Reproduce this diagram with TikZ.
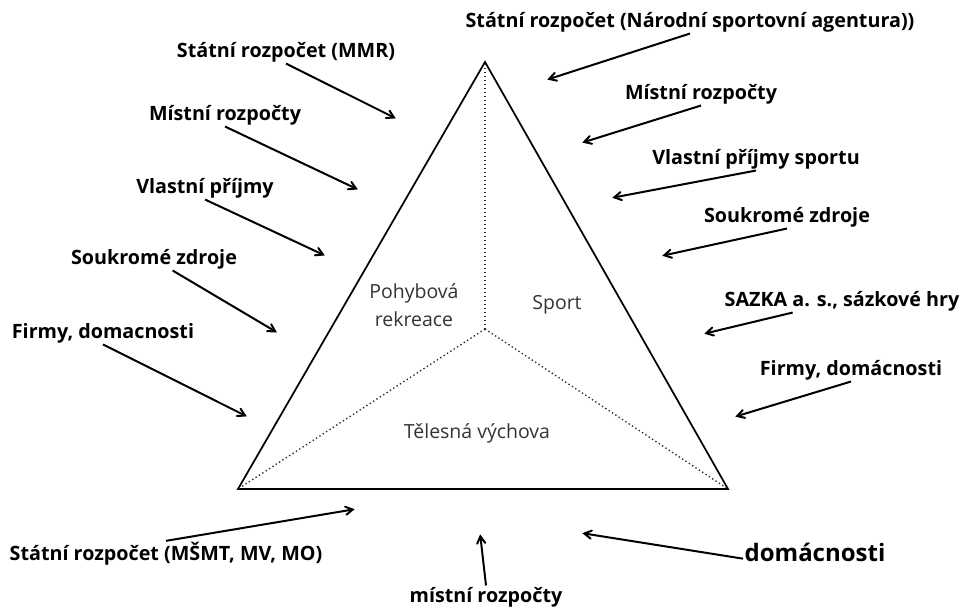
\documentclass[tikz,border=0pt]{standalone}
\usepackage{fontspec}
\setmainfont{Open Sans}
\usetikzlibrary{arrows}

\begin{document}
\begin{tikzpicture}[x=0.75pt,y=-0.75pt,>=angle 60,
  src/.style={font=\bfseries\fontsize{14.8}{17}\selectfont,inner sep=1pt},
  area/.style={font=\fontsize{14.6}{21}\selectfont,text=black!80,align=center},
  flow/.style={->,line width=1.5pt,shorten >=1pt},
  side/.style={line width=1.3pt,line join=miter},
  split/.style={dotted,line width=1pt,black!85}]
  \useasboundingbox (0,0) rectangle (962,609);

  % triangle
  \coordinate (top) at (485,62);
  \coordinate (bl) at (238,489);
  \coordinate (br) at (728,489);
  \coordinate (mid) at (485,329);
  \draw[side] (top) -- (bl) -- (br) -- cycle;
  \draw[split] (mid) -- (top);
  \draw[split] (mid) -- (bl);
  \draw[split] (mid) -- (br);

  \node[area] (rekreace) at (414,305) {Pohybová\\rekreace};
  \node[area] (sport) at (557,305) {Sport};
  \node[area] (vychova) at (477,433) {Tělesná výchova};

  % left sources
  \node[src] (mmr) at (286,52) {Státní rozpočet (MMR)};
  \node[src] (mistniL) at (225,115) {Místní rozpočty};
  \node[src] (vlastni) at (205,188) {Vlastní příjmy};
  \node[src] (soukromeL) at (154,259) {Soukromé zdroje};
  \node[src] (firmyL) at (103,333) {Firmy, domacnosti};

  % right sources
  \node[src] (nsa) at (690,22) {Státní rozpočet (Národní sportovní agentura))};
  \node[src] (mistniR) at (701,94) {Místní rozpočty};
  \node[src] (vlastniS) at (756,159) {Vlastní příjmy sportu};
  \node[src] (soukromeR) at (787,217) {Soukromé zdroje};
  \node[src] (sazka) at (842,301) {SAZKA a. s., sázkové hry};
  \node[src] (firmyR) at (851,370) {Firmy, domácnosti};

  % bottom sources
  \node[src] (msmt) at (166,554) {Státní rozpočet (MŠMT, MV, MO)};
  \node[src] (mistniB) at (486,597) {místní rozpočty};
  \node[src,font=\bfseries\fontsize{18}{21}\selectfont] (domacnosti) at (815,552) {domácnosti};

  % arrow ends
  \coordinate (e1) at (397,119);
  \coordinate (e2) at (359,190);
  \coordinate (e3) at (326,256);
  \coordinate (e4) at (278,333);
  \coordinate (e5) at (248,417);
  \coordinate (e6) at (546,80);
  \coordinate (e7) at (581,143);
  \coordinate (e8) at (611,198);
  \coordinate (e9) at (661,256);
  \coordinate (e10) at (703,334);
  \coordinate (e11) at (734,417);
  \coordinate (e12) at (356,509);
  \coordinate (e13) at (480,533);
  \coordinate (e14) at (581,533);

  \draw[flow] (mmr.south) -- (e1);
  \draw[flow] (mistniL.south) -- (e2);
  \draw[flow] (vlastni.south) -- (e3);
  \draw[flow] ([xshift=14pt]soukromeL.south) -- (e4);
  \draw[flow] (firmyL.south) -- (e5);
  \draw[flow] (nsa.south) -- (e6);
  \draw[flow] (mistniR.south) -- (e7);
  \draw[flow] (vlastniS.south) -- (e8);
  \draw[flow] (soukromeR.south) -- (e9);
  \draw[flow] ([xshift=-37pt]sazka.south) -- (e10);
  \draw[flow] (firmyR.south) -- (e11);
  \draw[flow] (msmt.north) -- (e12);
  \draw[flow] (mistniB.north) -- (e13);
  \draw[flow] ([yshift=-5pt]domacnosti.west) -- (e14);
\end{tikzpicture}
\end{document}
